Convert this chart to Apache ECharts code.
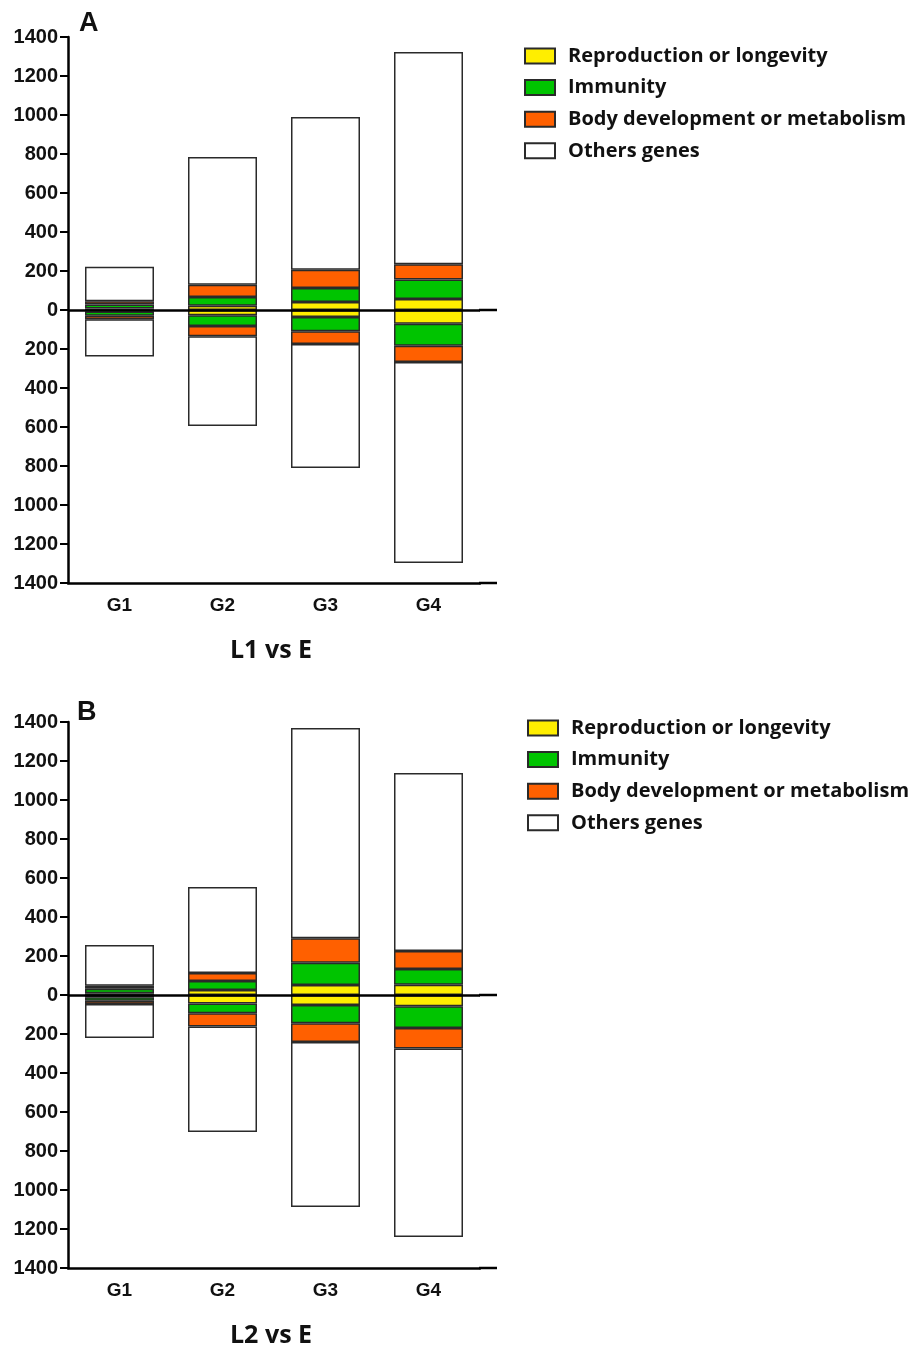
<!DOCTYPE html>
<html>
<head>
<meta charset="utf-8">
<script src="https://cdn.jsdelivr.net/npm/echarts@6/dist/echarts.min.js"></script>
<style>
html,body{margin:0;padding:0;background:#fff;}
#main{width:909px;height:1345px;}
</style>
</head>
<body>
<div id="main"></div>
<script>
// ---------- DATA ----------
const categories = ['G1', 'G2', 'G3', 'G4'];
const seriesNames = ['Reproduction or longevity', 'Immunity', 'Body development or metabolism', 'Others genes'];
const yTicks = [-1400, -1200, -1000, -800, -600, -400, -200, 0, 200, 400, 600, 800, 1000, 1200, 1400];

// Panel A (L1 vs E): segment sizes, upward (positive) and downward (negative)
const aReproUp   = [8, 22, 41, 56];
const aImmUp     = [20, 45, 72, 100];
const aBodyUp    = [17, 63, 94, 78];
const aOtherUp   = [177, 655, 783, 1089];
const aReproDown = [-8, -27, -36, -70];
const aImmDown   = [-22, -55, -73, -113];
const aBodyDown  = [-18, -53, -65, -84];
const aOtherDown = [-190, -460, -636, -1030];

// Panel B (L2 vs E)
const bReproUp   = [9, 26, 51, 53];
const bImmUp     = [23, 46, 115, 80];
const bBodyUp    = [16, 41, 125, 93];
const bOtherUp   = [208, 441, 1078, 912];
const bReproDown = [-12, -43, -51, -58];
const bImmDown   = [-17, -51, -94, -111];
const bBodyDown  = [-17, -68, -96, -105];
const bOtherDown = [-174, -541, -846, -967];

const panelTitles = ['L1 vs E', 'L2 vs E'];
const panelLetters = ['A', 'B'];

// ---------- STYLE ----------
const colors = ['#FFEE00', '#00C400', '#FF6000', '#FFFFFF'];
const borderC = '#2a2a2a';
const axisFont = 'Liberation Sans, Arial, sans-serif';
const textFont = 'Open Sans, Noto Sans, sans-serif';

const grids = [
  {left: 68, top: 37, width: 412, height: 546},
  {left: 68, top: 722, width: 412, height: 546}
];
const axisRightX = 497;

function mkSeries(panel, stack, parts) {
  const out = [];
  parts.forEach((p, i) => {
    p.forEach((arr) => {
      out.push({
        name: seriesNames[i],
        type: 'bar',
        stack: stack,
        xAxisIndex: panel,
        yAxisIndex: panel,
        barWidth: 69,
        data: arr,
        itemStyle: {color: colors[i], borderColor: borderC, borderWidth: 1.5},
        emphasis: {disabled: true},
        silent: true,
        animation: false
      });
    });
  });
  const last = out[out.length - 1];
  last.z = 3;
  last.markLine = {
    silent: true, symbol: 'none', animation: false,
    label: {show: false},
    lineStyle: {color: '#000', width: 2.5, type: 'solid'},
    data: [{yAxis: 0}]
  };
  return out;
}

const seriesA = mkSeries(0, 'A', [
  [aReproUp, aReproDown], [aImmUp, aImmDown], [aBodyUp, aBodyDown], [aOtherUp, aOtherDown]
]);
const seriesB = mkSeries(1, 'B', [
  [bReproUp, bReproDown], [bImmUp, bImmDown], [bBodyUp, bBodyDown], [bOtherUp, bOtherDown]
]);

function xAxis(idx) {
  return {
    type: 'category', gridIndex: idx, data: categories,
    position: 'bottom',
    axisLine: {onZero: false, lineStyle: {color: '#000', width: 2.5}},
    axisTick: {alignWithLabel: true, length: 7, lineStyle: {color: '#000', width: 2}},
    axisLabel: {color: '#111', fontFamily: axisFont, fontWeight: 'bold', fontSize: 19, margin: 13}
  };
}
function yAxis(idx) {
  return {
    type: 'value', gridIndex: idx, min: -1400, max: 1400, interval: 200,
    splitLine: {show: false},
    axisLine: {show: true, lineStyle: {color: '#000', width: 2.5}},
    axisTick: {show: true, length: 8, lineStyle: {color: '#000', width: 2}},
    axisLabel: {color: '#111', fontFamily: axisFont, fontWeight: 'bold', fontSize: 20, margin: 10,
      formatter: v => String(Math.abs(v))}
  };
}
function legend(idx, left, top) {
  return {
    data: seriesNames, orient: 'vertical', left: left, top: top, padding: 0,
    icon: 'rect', itemWidth: 30, itemHeight: 15, itemGap: 11.6,
    selectedMode: false,
    textStyle: {fontFamily: textFont, fontWeight: 'bold', fontSize: 20, color: '#111', padding: [0, 0, 0, 8]}
  };
}

const chart = echarts.init(document.getElementById('main'), null, {renderer: 'canvas'});
chart.setOption({
  backgroundColor: '#fff',
  animation: false,
  title: [
    {text: panelLetters[0], left: 79, top: 10, padding: 0, textStyle: {fontFamily: axisFont, fontWeight: 'bold', fontSize: 27, color: '#111'}},
    {text: panelTitles[0], left: 230, top: 638, padding: 0, textStyle: {fontFamily: textFont, fontWeight: 'bold', fontSize: 25, color: '#111'}},
    {text: panelLetters[1], left: 77, top: 699, padding: 0, textStyle: {fontFamily: axisFont, fontWeight: 'bold', fontSize: 27, color: '#111'}},
    {text: panelTitles[1], left: 230, top: 1323, padding: 0, textStyle: {fontFamily: textFont, fontWeight: 'bold', fontSize: 25, color: '#111'}}
  ],
  legend: [legend(0, 524, 46), legend(1, 527, 718)],
  grid: grids,
  xAxis: [xAxis(0), xAxis(1)],
  yAxis: [yAxis(0), yAxis(1)],
  series: seriesA.concat(seriesB)
});

// extend the zero line and x axis line a little beyond the last category band
const extra = [];
[0, 1].forEach(g => {
  const gx = grids[g].left + grids[g].width;
  [0, -1400].forEach(v => {
    const p = chart.convertToPixel({gridIndex: g}, [0, v]);
    extra.push({type: 'line', silent: true, z: 10,
      shape: {x1: gx - 1, y1: p[1], x2: axisRightX, y2: p[1]},
      style: {stroke: '#000', lineWidth: 2.5}});
  });
});
chart.setOption({graphic: extra});
</script>
</body>
</html>
